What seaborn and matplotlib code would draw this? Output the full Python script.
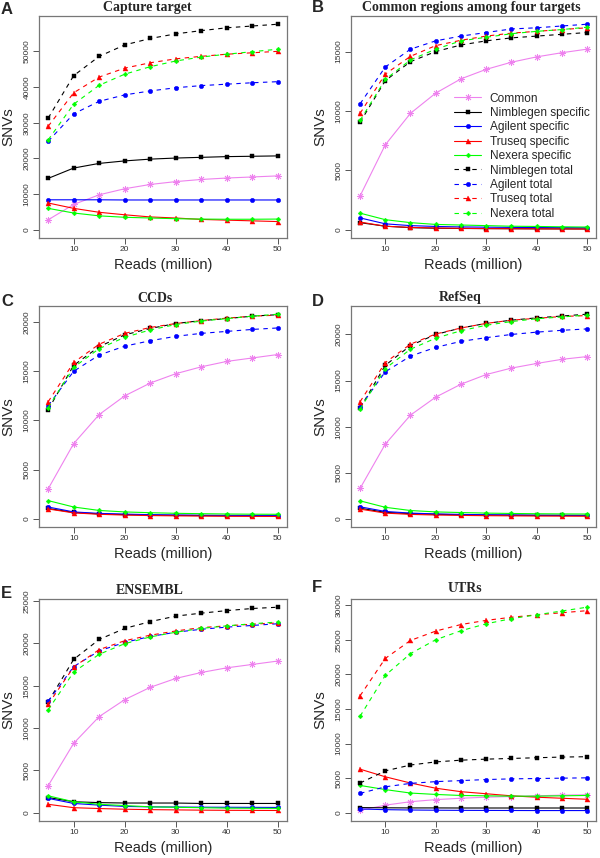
import matplotlib
matplotlib.use('Agg')
import matplotlib.pyplot as plt
import seaborn as sns

reads = [5, 10, 15, 20, 25, 30, 35, 40, 45, 50]

series_names = ['Common', 'Nimblegen specific', 'Agilent specific', 'Truseq specific', 'Nexera specific',
                'Nimblegen total', 'Agilent total', 'Truseq total', 'Nexera total']

# one row per series, same order as series_names
capture_target = [
    [2800, 7100, 9800, 11500, 12700, 13500, 14100, 14500, 14800, 15100],
    [14400, 17300, 18600, 19300, 19800, 20100, 20300, 20500, 20600, 20700],
    [8400, 8400, 8400, 8350, 8350, 8350, 8350, 8350, 8350, 8350],
    [7500, 6000, 4900, 4200, 3600, 3300, 2900, 2700, 2500, 2300],
    [6000, 4700, 3900, 3500, 3300, 3100, 3000, 2950, 2950, 3000],
    [31300, 43200, 48600, 51800, 53600, 54900, 55800, 56600, 57100, 57600],
    [24800, 32500, 36000, 37800, 38900, 39800, 40400, 40800, 41200, 41500],
    [29000, 38400, 42800, 45300, 46800, 47900, 48600, 49200, 49600, 50000],
    [25200, 35200, 40500, 43600, 45700, 47300, 48400, 49200, 49900, 50600],
]
common_regions = [
    [2850, 7150, 9800, 11500, 12700, 13500, 14100, 14550, 14900, 15200],
    [600, 300, 180, 130, 110, 100, 90, 80, 75, 70],
    [1000, 500, 350, 280, 240, 220, 200, 190, 180, 170],
    [650, 300, 200, 150, 120, 100, 90, 80, 70, 60],
    [1400, 850, 600, 450, 400, 350, 300, 280, 250, 230],
    [9050, 12550, 14150, 15000, 15550, 15900, 16150, 16300, 16450, 16600],
    [10600, 13700, 15200, 15900, 16300, 16600, 16900, 17000, 17150, 17300],
    [9800, 13100, 14600, 15500, 15950, 16300, 16550, 16700, 16850, 17000],
    [9200, 12650, 14300, 15200, 15900, 16200, 16500, 16700, 16850, 17050],
]
ccds = [
    [3050, 7650, 10600, 12500, 13800, 14750, 15450, 16000, 16350, 16700],
    [1050, 650, 500, 430, 380, 350, 330, 310, 300, 290],
    [1200, 700, 550, 480, 420, 390, 370, 350, 340, 330],
    [1000, 600, 460, 380, 330, 300, 280, 260, 250, 240],
    [1850, 1200, 850, 700, 620, 560, 520, 490, 470, 460],
    [11100, 15600, 17500, 18700, 19350, 19850, 20150, 20350, 20600, 20750],
    [11500, 15000, 16650, 17550, 18100, 18550, 18850, 19050, 19250, 19400],
    [11900, 15900, 17750, 18850, 19450, 19850, 20150, 20400, 20600, 20700],
    [11300, 15400, 17300, 18450, 19200, 19750, 20100, 20350, 20600, 20800],
]
refseq = [
    [3300, 8100, 11250, 13200, 14600, 15650, 16350, 16850, 17300, 17600],
    [1150, 700, 560, 490, 440, 410, 390, 370, 360, 350],
    [1300, 800, 620, 530, 480, 440, 420, 400, 390, 380],
    [1050, 620, 480, 410, 370, 340, 320, 300, 290, 280],
    [1950, 1250, 900, 750, 680, 620, 580, 550, 530, 520],
    [12000, 16650, 18800, 20000, 20700, 21200, 21550, 21800, 22000, 22200],
    [12150, 15950, 17650, 18600, 19250, 19650, 20000, 20250, 20450, 20600],
    [12700, 16950, 18950, 20050, 20700, 21200, 21550, 21750, 21950, 22050],
    [11900, 16300, 18400, 19600, 20400, 21000, 21400, 21700, 21900, 22100],
]
ensembl = [
    [3200, 8200, 11350, 13350, 14800, 15850, 16550, 17100, 17500, 17900],
    [1800, 1300, 1200, 1150, 1150, 1150, 1100, 1100, 1100, 1100],
    [1700, 1100, 900, 750, 700, 680, 660, 650, 640, 630],
    [1000, 600, 500, 420, 370, 340, 310, 290, 280, 270],
    [2000, 1300, 1000, 850, 700, 650, 600, 550, 530, 520],
    [13100, 18100, 20450, 21750, 22550, 23200, 23550, 23850, 24100, 24250],
    [13150, 17250, 19100, 20100, 20800, 21300, 21650, 21900, 22100, 22300],
    [12800, 17200, 19250, 20300, 20950, 21450, 21850, 22050, 22250, 22400],
    [12150, 16600, 18700, 19950, 20750, 21300, 21750, 22050, 22300, 22500],
]
utrs = [
    [350, 1100, 1600, 1900, 2100, 2250, 2350, 2450, 2550, 2600],
    [750, 720, 700, 700, 690, 690, 690, 690, 690, 690],
    [550, 450, 400, 370, 350, 340, 330, 320, 320, 320],
    [6300, 5200, 4300, 3550, 3050, 2750, 2450, 2250, 2100, 1950],
    [3950, 3350, 2850, 2650, 2500, 2450, 2400, 2400, 2450, 2500],
    [4300, 6050, 6900, 7350, 7600, 7750, 7850, 7950, 8050, 8100],
    [2800, 3750, 4250, 4500, 4650, 4800, 4900, 4950, 5000, 5050],
    [16900, 22300, 24900, 26250, 27200, 27800, 28250, 28600, 28900, 29200],
    [13950, 19850, 23000, 25000, 26300, 27300, 28050, 28600, 29150, 29700],
]

panels = [('A', 'Capture target', capture_target, 10000),
          ('B', 'Common regions among four targets', common_regions, 5000),
          ('C', 'CCDs', ccds, 5000),
          ('D', 'RefSeq', refseq, 5000),
          ('E', 'ENSEMBL', ensembl, 5000),
          ('F', 'UTRs', utrs, 5000)]

colors = ['violet', 'black', 'blue', 'red', '#00ff00', 'black', 'blue', 'red', '#00ff00']
markers = [(8, 2, 0), 's', 'o', '^', 'D', 's', 'o', '^', 'D']
msizes = [5, 3, 3.2, 3.6, 2.4, 3, 3.2, 3.6, 2.4]
styles = ['-'] * 5 + [(0, (4, 4))] * 4

sns.set_style('white')
plt.rcParams['font.family'] = ['Liberation Sans', 'DejaVu Sans']

W, H = 600, 858
fig = plt.figure(figsize=(6, 8.58), dpi=100)

# pixel boxes (left, top, right, bottom)
boxes = [(39, 16, 287, 238), (351, 16, 596, 238),
         (39, 306, 287, 527), (351, 306, 596, 527),
         (39, 599, 287, 821), (351, 599, 596, 821)]
title_pos = [(147, 8), (471, 8), (155, 298), (460, 298), (150, 590), (465, 589)]
letter_pos = [(1, 9), (312, 8), (1, 301), (312, 302), (1, 593), (312, 588)]
ylabel_x = [8, 320, 8, 320, 8, 320]

for i, (letter, title, rows, ystep) in enumerate(panels):
    l, t, r, b = boxes[i]
    ax = fig.add_axes([l / W, 1 - b / H, (r - l) / W, (b - t) / H])
    for name, vals, c, m, ms, ls in zip(series_names, rows, colors, markers, msizes, styles):
        sns.lineplot(x=reads, y=vals, ax=ax, color=c, marker=m, markersize=ms, linestyle=ls,
                     linewidth=0.8, markeredgecolor=c, markeredgewidth=0.6 if m == (8, 2, 0) else 0.3,
                     label=name, legend=False)
    ymax = max(max(v) for v in rows)
    ytop = 1.04 * ymax
    ax.set_xlim(3.2, 51.8)
    ax.set_ylim(-0.04 * ymax, ytop)
    ax.set_xticks([10, 20, 30, 40, 50])
    ax.set_yticks(range(0, int(ytop) + 1, ystep))
    ax.tick_params(axis='both', direction='out', length=4, width=0.7, color='#555555',
                   labelsize=6, labelcolor='#333333', pad=2, left=True, bottom=True)
    for lab in ax.get_yticklabels():
        lab.set_rotation(90)
        lab.set_va('center')
    for sp in ax.spines.values():
        sp.set_color('#777777')
        sp.set_linewidth(0.9)
    ax.set_xlabel('Reads (million)', fontsize=10.5)
    ax.set_ylabel('SNVs', fontsize=11)
    ax.xaxis.set_label_coords(0.5, -27 / (b - t), transform=ax.transAxes)
    ax.yaxis.set_label_coords((ylabel_x[i] - l) / (r - l), 0.5, transform=ax.transAxes)
    ax.xaxis.label.set_va('center')
    ax.yaxis.label.set_va('center')
    fig.text(title_pos[i][0] / W, 1 - title_pos[i][1] / H, title, ha='center', va='center',
             fontsize=10, fontweight='bold', family='Liberation Serif')
    fig.text(letter_pos[i][0] / W, 1 - letter_pos[i][1] / H, letter, ha='left', va='center',
             fontsize=12, fontweight='bold')
    if letter == 'B':
        handles, labels = ax.get_legend_handles_labels()
        ax.legend(handles, labels, loc='upper left', bbox_to_anchor=(0.42, 0.655), frameon=False,
                  fontsize=8.6, borderaxespad=0, borderpad=0, handlelength=2.3, handletextpad=0.7,
                  labelspacing=0.2)

fig.savefig('out.png', dpi=100)
plt.close(fig)
